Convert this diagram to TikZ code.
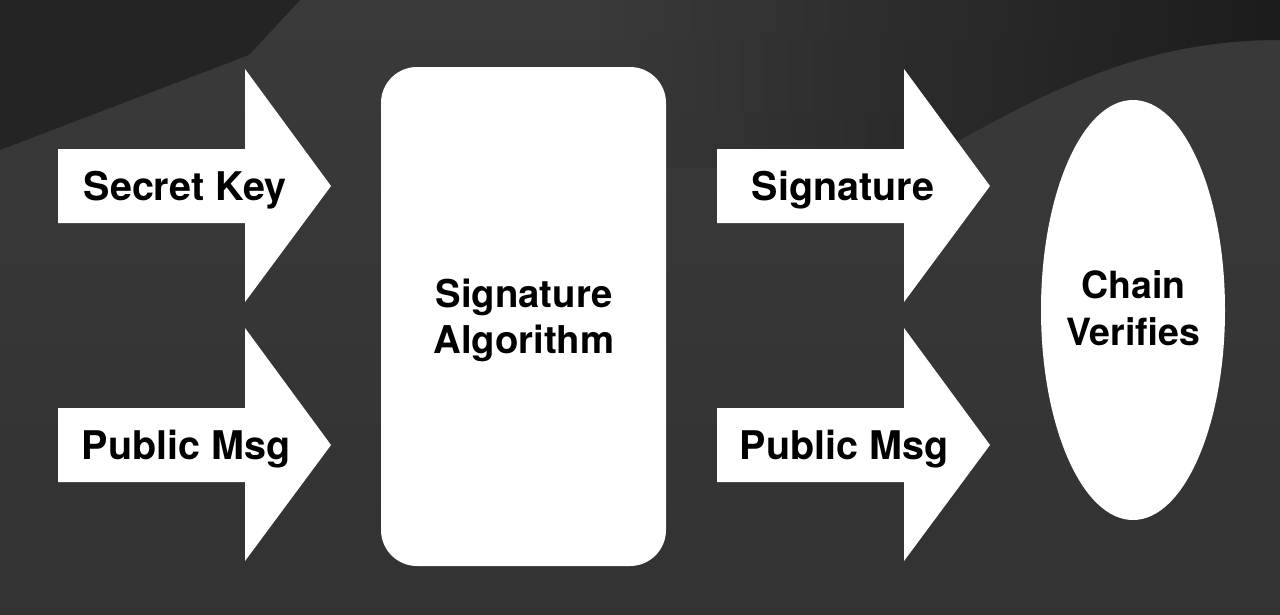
\documentclass[tikz,border=0pt]{standalone}
\usepackage{fontspec}
\setmainfont{TeX Gyre Heros}
\usepackage{tikz}
\usetikzlibrary{shapes.geometric, positioning, fadings}
\definecolor{bgtop}{HTML}{3A3A3A}
\definecolor{bgbot}{HTML}{323232}
\definecolor{bgdark}{HTML}{242424}
\definecolor{bgdeep}{HTML}{1C1C1C}
\tikzfading[name=darkright, left color=transparent!100, right color=transparent!0]

\begin{document}
\begin{tikzpicture}[x=1pt, y=-1pt,
    font=\fontsize{39.5}{50}\selectfont\bfseries,
    label/.style={anchor=base, text=black, inner sep=0pt},
    block/.style={fill=white, draw=none, inner sep=0pt},
    blocktext/.style={text=black, align=center, inner sep=0pt}]
    \useasboundingbox (0,0) rectangle (1280,614);
    % background
    \shade[top color=bgtop, bottom color=bgbot] (0,0) rectangle (1280,614);
    \fill[bgdark] (0,0) -- (300,0) -- (249,55) -- (0,150) -- cycle;
    \fill[bgdeep, path fading=darkright]
        (600,0) -- (1280,0) -- (1280,40)
        .. controls (1150,40) and (1060,85) .. (960,140)
        -- (904,168) -- (600,168) -- cycle;

    % the arrows
    \fill[white] (58,149) -- (245,149) -- (245,69) -- (331,186)
        -- (245,302) -- (245,223) -- (58,223) -- cycle;
    \fill[white] (58,408) -- (245,408) -- (245,328) -- (331,445)
        -- (245,561) -- (245,482) -- (58,482) -- cycle;
    \fill[white] (717,149) -- (904,149) -- (904,69) -- (990,186)
        -- (904,302) -- (904,223) -- (717,223) -- cycle;
    \fill[white] (717,408) -- (904,408) -- (904,328) -- (990,445)
        -- (904,561) -- (904,482) -- (717,482) -- cycle;

    % the labels
    \node[label] (key) at (185,200) {Secret Key};
    \node[label] (msg1) at (186,459) {Public Msg};
    \node[label] (sig) at (843,200) {Signature};
    \node[label] (msg2) at (844,459) {Public Msg};

    % algorithm and verifier
    \node[block,
        rounded corners=36pt,
        minimum width=285pt,
        minimum height=499pt
        ] (algo) at (523.5,316.5) {};
    \node[blocktext,
        font=\fontsize{38.3}{46}\selectfont\bfseries
        ] (algotext) at (524,320) {Signature\\Algorithm};
    \node[block,
        ellipse,
        minimum width=184pt,
        minimum height=420pt
        ] (chain) at (1133,310) {};
    \node[blocktext,
        font=\fontsize{37.5}{47}\selectfont\bfseries
        ] (chaintext) at (1133.5,308) {Chain\\Verifies};
\end{tikzpicture}
\end{document}
